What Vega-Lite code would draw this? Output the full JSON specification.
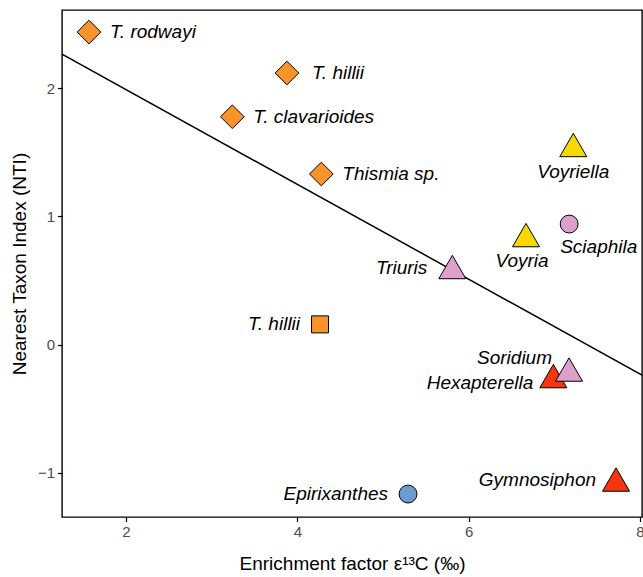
{
  "$schema": "https://vega.github.io/schema/vega-lite/v6.json",
  "width": 580,
  "height": 507,
  "autosize": {"type": "none"},
  "padding": {"left": 62, "top": 10, "right": 1, "bottom": 60},
  "background": "white",
  "config": {
    "font": "Liberation Sans",
    "view": {"stroke": "black", "strokeWidth": 1.4},
    "axis": {
      "domain": false, "grid": false, "ticks": true,
      "tickColor": "black", "tickSize": 4.5, "tickWidth": 1.2,
      "labelColor": "#4d4d4d", "labelFontSize": 15, "labelPadding": 3,
      "labelFont": "Liberation Sans",
      "titleFont": "Liberation Sans", "titleFontSize": 19, "titleFontWeight": "normal", "titleColor": "black"
    }
  },
  "datasets": {
    "taxa": [
      {"name": "T. rodwayi", "family": "Thismiaceae", "origin": "Australia", "enrichment": 1.568, "nti": 2.436},
      {"name": "T. hillii", "family": "Thismiaceae", "origin": "Australia", "enrichment": 3.879, "nti": 2.117},
      {"name": "T. clavarioides", "family": "Thismiaceae", "origin": "Australia", "enrichment": 3.241, "nti": 1.776},
      {"name": "Thismia sp.", "family": "Thismiaceae", "origin": "Australia", "enrichment": 4.280, "nti": 1.330},
      {"name": "Voyriella", "family": "Gentianaceae", "origin": "Neotropics", "enrichment": 7.221, "nti": 1.556},
      {"name": "Sciaphila", "family": "Triuridaceae", "origin": "Asia", "enrichment": 7.173, "nti": 0.940},
      {"name": "Voyria", "family": "Gentianaceae", "origin": "Neotropics", "enrichment": 6.669, "nti": 0.854},
      {"name": "Triuris", "family": "Triuridaceae", "origin": "Neotropics", "enrichment": 5.809, "nti": 0.605},
      {"name": "T. hillii", "family": "Thismiaceae", "origin": "New Zealand", "enrichment": 4.265, "nti": 0.158},
      {"name": "Hexapterella", "family": "Burmanniaceae", "origin": "Neotropics", "enrichment": 6.988, "nti": -0.245},
      {"name": "Soridium", "family": "Triuridaceae", "origin": "Neotropics", "enrichment": 7.171, "nti": -0.194},
      {"name": "Gymnosiphon", "family": "Burmanniaceae", "origin": "Neotropics", "enrichment": 7.720, "nti": -1.051},
      {"name": "Epirixanthes", "family": "Polygalaceae", "origin": "Asia", "enrichment": 5.292, "nti": -1.164}
    ]
  },
  "data": {"name": "taxa"},
  "encoding": {
    "x": {
      "field": "enrichment", "type": "quantitative",
      "scale": {"domain": [1.253, 8.023], "nice": false, "zero": false},
      "axis": {"values": [2, 4, 6, 8], "title": "Enrichment factor ε¹³C (‰)", "titlePadding": 15}
    },
    "y": {
      "field": "nti", "type": "quantitative",
      "scale": {"domain": [-1.343, 2.608], "nice": false, "zero": false},
      "axis": {"values": [-1, 0, 1, 2], "title": "Nearest Taxon Index (NTI)", "titlePadding": 8}
    }
  },
  "layer": [
    {
      "transform": [{"regression": "nti", "on": "enrichment", "extent": [1.253, 8.023]}],
      "mark": {"type": "line", "color": "black", "strokeWidth": 1.5, "clip": true}
    },
    {
      "mark": {"type": "point", "filled": true, "fillOpacity": 1, "opacity": 1, "stroke": "black", "strokeWidth": 1},
      "encoding": {
        "color": {
          "field": "family", "type": "nominal", "legend": null,
          "scale": {
            "domain": ["Thismiaceae", "Gentianaceae", "Triuridaceae", "Burmanniaceae", "Polygalaceae"],
            "range": ["#F8942A", "#F7D800", "#DDA0CC", "#F53410", "#6C9BCF"]
          }
        },
        "shape": {
          "field": "origin", "type": "nominal", "legend": null,
          "scale": {
            "domain": ["Australia", "New Zealand", "Neotropics", "Asia"],
            "range": ["diamond", "square", "triangle-up", "circle"]
          }
        },
        "size": {
          "field": "origin", "type": "nominal", "legend": null,
          "scale": {
            "type": "ordinal",
            "domain": ["Australia", "New Zealand", "Neotropics", "Asia"],
            "range": [560, 289, 729, 320]
          }
        }
      }
    },
    {
      "transform": [{"filter": "datum.origin == 'Australia' && datum.name != 'T. hillii'"}],
      "mark": {"type": "text", "align": "left", "baseline": "middle", "dx": 21, "fontSize": 19, "fontStyle": "italic", "color": "black"},
      "encoding": {"text": {"field": "name"}}
    },
    {
      "transform": [{"filter": "datum.origin == 'Australia' && datum.name == 'T. hillii'"}],
      "mark": {"type": "text", "align": "left", "baseline": "middle", "dx": 25, "fontSize": 19, "fontStyle": "italic", "color": "black"},
      "encoding": {"text": {"field": "name"}}
    },
    {
      "transform": [{"filter": "datum.name == 'Voyriella'"}],
      "mark": {"type": "text", "align": "center", "baseline": "middle", "dy": 27, "fontSize": 19, "fontStyle": "italic", "color": "black"},
      "encoding": {"text": {"field": "name"}}
    },
    {
      "transform": [{"filter": "datum.name == 'Voyria'"}],
      "mark": {"type": "text", "align": "center", "baseline": "middle", "dx": -4, "dy": 26, "fontSize": 19, "fontStyle": "italic", "color": "black"},
      "encoding": {"text": {"field": "name"}}
    },
    {
      "transform": [{"filter": "datum.name == 'Sciaphila'"}],
      "mark": {"type": "text", "align": "left", "baseline": "middle", "dx": -9, "dy": 23, "fontSize": 19, "fontStyle": "italic", "color": "black"},
      "encoding": {"text": {"field": "name"}}
    },
    {
      "transform": [{"filter": "datum.name == 'Triuris'"}],
      "mark": {"type": "text", "align": "right", "baseline": "middle", "dx": -25, "dy": 1, "fontSize": 19, "fontStyle": "italic", "color": "black"},
      "encoding": {"text": {"field": "name"}}
    },
    {
      "transform": [{"filter": "datum.origin == 'New Zealand' || datum.name == 'Gymnosiphon' || datum.name == 'Epirixanthes'"}],
      "mark": {"type": "text", "align": "right", "baseline": "middle", "dx": -20, "fontSize": 19, "fontStyle": "italic", "color": "black"},
      "encoding": {"text": {"field": "name"}}
    },
    {
      "transform": [{"filter": "datum.name == 'Hexapterella'"}],
      "mark": {"type": "text", "align": "right", "baseline": "middle", "dx": -20, "dy": 7, "fontSize": 19, "fontStyle": "italic", "color": "black"},
      "encoding": {"text": {"field": "name"}}
    },
    {
      "transform": [{"filter": "datum.name == 'Soridium'"}],
      "mark": {"type": "text", "align": "right", "baseline": "middle", "dx": -17, "dy": -12, "fontSize": 19, "fontStyle": "italic", "color": "black"},
      "encoding": {"text": {"field": "name"}}
    },
    {
      "data": {"values": [{"stat": "r", "value": "= –0.62", "level": 2.351}, {"stat": "p", "value": "= 0.025", "level": 2.171}]},
      "layer": [
        {
          "mark": {"type": "text", "align": "right", "baseline": "alphabetic", "fontSize": 19, "fontStyle": "italic", "color": "black"},
          "encoding": {
            "x": {"datum": 6.99, "type": "quantitative"},
            "y": {"field": "level", "type": "quantitative"},
            "text": {"field": "stat"}
          }
        },
        {
          "mark": {"type": "text", "align": "left", "baseline": "alphabetic", "dx": 3, "fontSize": 19, "color": "black"},
          "encoding": {
            "x": {"datum": 6.99, "type": "quantitative"},
            "y": {"field": "level", "type": "quantitative"},
            "text": {"field": "value"}
          }
        }
      ]
    }
  ]
}
